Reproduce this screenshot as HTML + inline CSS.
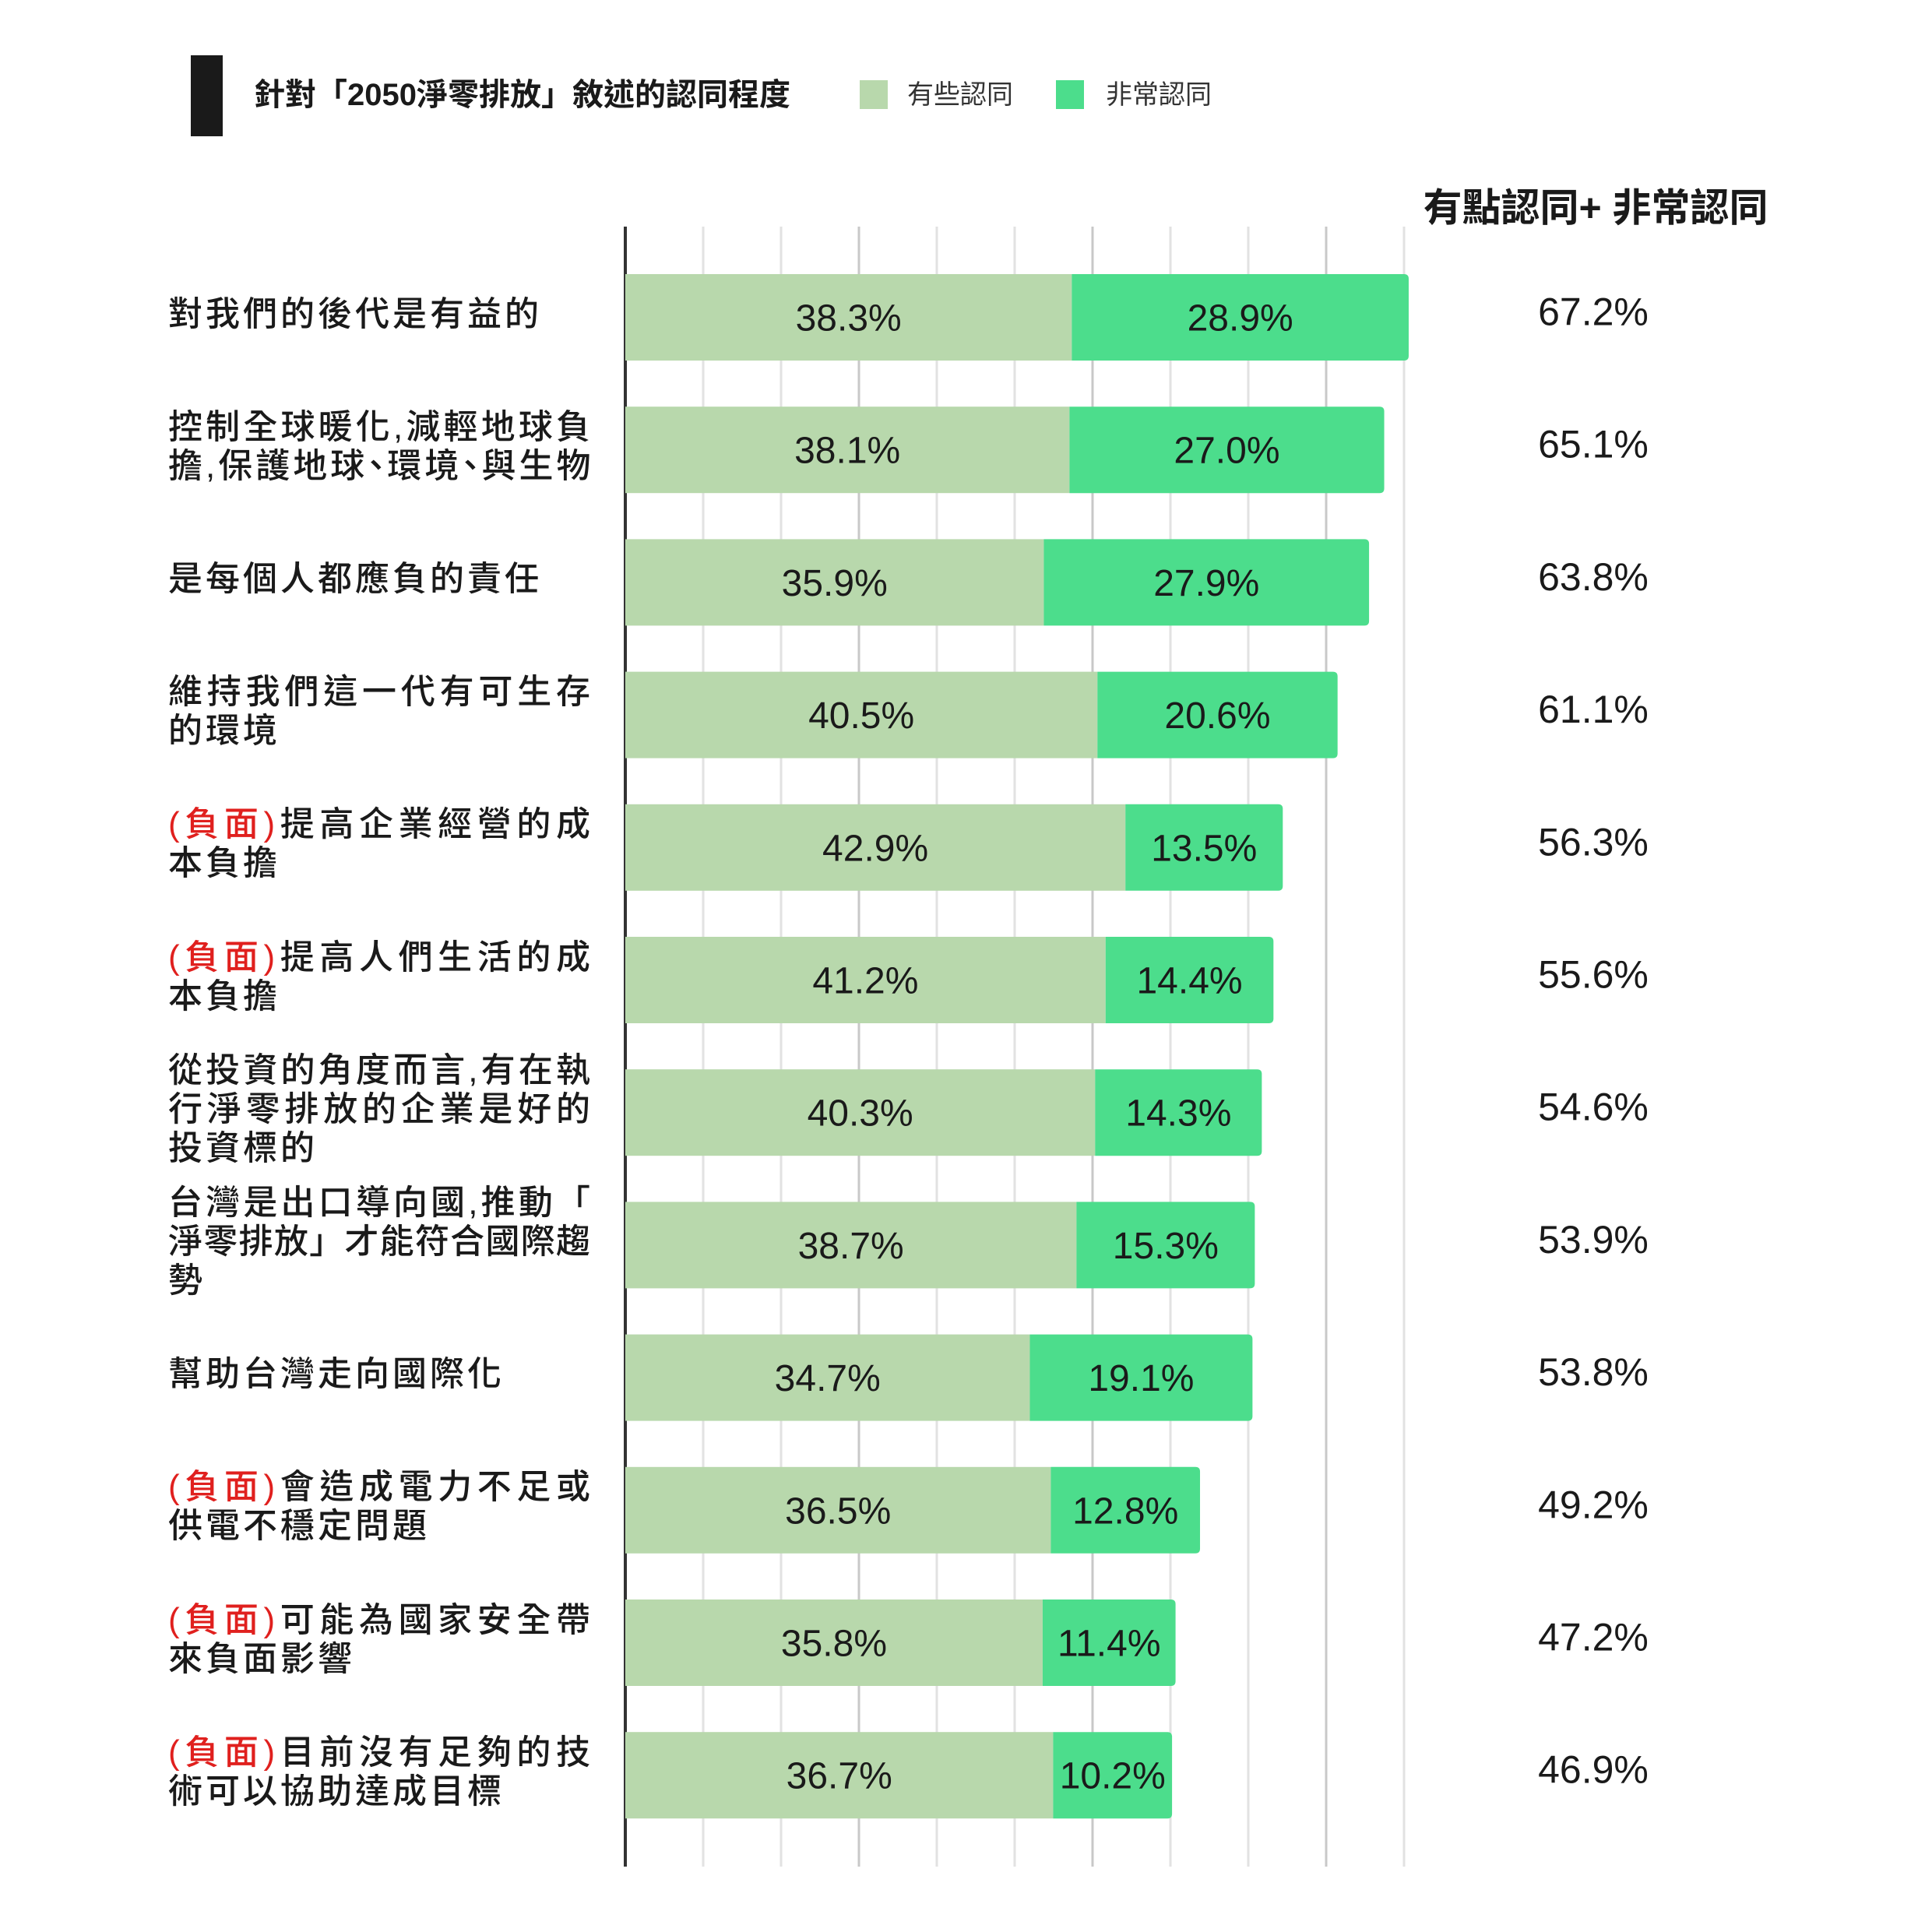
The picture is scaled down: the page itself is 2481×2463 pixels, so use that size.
<!DOCTYPE html>
<html><head><meta charset="utf-8">
<style>
html,body{margin:0;padding:0;background:#fff;}
body{width:2481px;height:2463px;position:relative;overflow:hidden;font-family:"Liberation Sans","Noto Sans CJK TC",sans-serif;color:#1a1a1a;}
.abs{position:absolute;}
.lbl{position:absolute;left:216px;width:542px;font-size:44px;line-height:50px;font-weight:500;}
.ln{white-space:nowrap;text-align:justify;text-align-last:justify;text-justify:inter-character;}
.ln.last{text-align-last:left;letter-spacing:4px;}
.neg{color:#e0201e;}
.np{display:inline-block;margin:0 -0.26em;}
</style></head><body>
<div class="abs" style="left:245px;top:71px;width:41px;height:104px;background:#1a1a1a"></div>
<div class="abs" style="left:326px;top:98px;font-size:40px;font-weight:bold;line-height:48px;white-space:nowrap">針對「2050淨零排放」敘述的認同程度</div>
<div class="abs" style="left:1104px;top:103px;width:36px;height:37px;background:#b8d8ac"></div>
<div class="abs" style="left:1165px;top:100px;font-size:34px;line-height:44px;color:#333;white-space:nowrap">有些認同</div>
<div class="abs" style="left:1356px;top:103px;width:36px;height:37px;background:#4cdd8c"></div>
<div class="abs" style="left:1420px;top:100px;font-size:34px;line-height:44px;color:#333;white-space:nowrap">非常認同</div>
<div class="abs" style="left:1749px;width:600px;text-align:center;top:238px;font-size:50px;font-weight:bold;line-height:58px;white-space:nowrap">有點認同+ 非常認同</div>
<svg id="chart" class="abs" style="left:0;top:0" width="2481" height="2463"></svg>
<div id="labels"></div>
<script>
const categories=[
 '對我們的後代是有益的',
 '控制全球暖化,減輕地球負|擔,保護地球、環境、與生物',
 '是每個人都應負的責任',
 '維持我們這一代有可生存|的環境',
 '(負面)提高企業經營的成|本負擔',
 '(負面)提高人們生活的成|本負擔',
 '從投資的角度而言,有在執|行淨零排放的企業是好的|投資標的',
 '台灣是出口導向國,推動「|淨零排放」才能符合國際趨|勢',
 '幫助台灣走向國際化',
 '(負面)會造成電力不足或|供電不穩定問題',
 '(負面)可能為國家安全帶|來負面影響',
 '(負面)目前沒有足夠的技|術可以協助達成目標'];
const someAgree=[38.3,38.1,35.9,40.5,42.9,41.2,40.3,38.7,34.7,36.5,35.8,36.7];
const veryAgree=[28.9,27.0,27.9,20.6,13.5,14.4,14.3,15.3,19.1,12.8,11.4,10.2];
const totals=[67.2,65.1,63.8,61.1,56.3,55.6,54.6,53.9,53.8,49.2,47.2,46.9];

const X0=803, PX=14.97, ROW0=352, PITCH=170.2, BH=111;
const xs=v=>X0+v*PX;
const yRow=i=>ROW0+i*PITCH;
const NS='http://www.w3.org/2000/svg';
const svg=document.getElementById('chart');
function mk(tag,attrs){const e=document.createElementNS(NS,tag);for(const k in attrs)e.setAttribute(k,attrs[k]);svg.appendChild(e);return e;}
for(let k=1;k<=10;k++){
 const gx=X0+k*100;
 const g=mk('line',{x1:gx,x2:gx,y1:291,y2:2397,stroke:(k%3==0)?'#c8c8c8':'#e2e2e2','stroke-width':3});
 
 
}
const ax=mk('line',{x1:X0,x2:X0,y1:291,y2:2397,stroke:'#333','stroke-width':4});


const labels=document.getElementById('labels');
categories.forEach((c,i)=>{
 const y=yRow(i), a=someAgree[i], b=veryAgree[i];
 const r1=mk('rect',{x:X0,y:y,width:xs(a)-X0,height:BH,fill:'#b8d8ac'});
 
 
 const p=document.createElementNS(NS,'path');
 const x1=xs(a),x2=xs(a+b),r=6;
 p.setAttribute('d',`M${x1},${y}H${x2-r}Q${x2},${y} ${x2},${y+r}V${y+BH-r}Q${x2},${y+BH} ${x2-r},${y+BH}H${x1}Z`);
 p.setAttribute('fill','#4cdd8c');
 svg.appendChild(p);
 
 
 const t1=mk('text',{x:(X0+x1)/2,y:y+BH/2+17,'text-anchor':'middle','font-size':48,fill:'#1a1a1a'});
 t1.textContent=a.toFixed(1)+'%';
 
 
 const t2=mk('text',{x:(x1+x2)/2,y:y+BH/2+17,'text-anchor':'middle','font-size':48,fill:'#1a1a1a'});
 t2.textContent=b.toFixed(1)+'%';
 
 
 const t3=mk('text',{x:2046,y:y+BH/2+10,'text-anchor':'middle','font-size':50,fill:'#1a1a1a'});
 t3.textContent=totals[i].toFixed(1)+'%';
 
 
 const d=document.createElement('div');
 d.className='lbl';
 
 
 const lines=c.split('|');
 lines.forEach((ln,j)=>{
  const l=document.createElement('div');
  l.className='ln'+((j==lines.length-1)?' last':'');
  let h=ln.replace(/、/g,'<span class="np">、</span>');
  if(h.startsWith('(負面)')) h='<span class="neg">(負面)</span>'+h.slice(4);
  l.innerHTML=h;
  d.appendChild(l);
 });
 labels.appendChild(d);
 d.style.top=(y+BH/2-lines.length*25-4)+'px';
});
</script>
</body></html>
